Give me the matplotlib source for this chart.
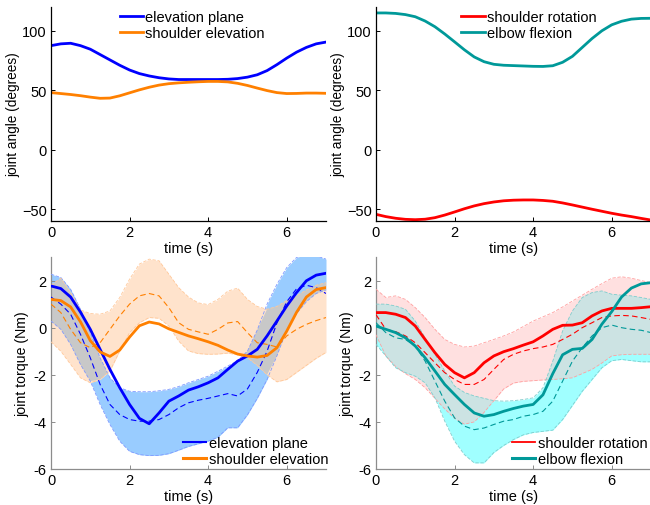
import numpy as np
import matplotlib
matplotlib.use("Agg")
import matplotlib.pyplot as plt
from matplotlib.lines import Line2D

plt.rcParams['font.family'] = ['Liberation Sans', 'DejaVu Sans']
plt.rcParams['font.size'] = 10

# ---------------- data ----------------
t = np.arange(0, 7.001, 0.25)

# joint angles (degrees)
elev_plane_angle = [87.5, 89, 89.5, 87.5, 84.5, 80, 75.5, 71, 67, 64, 62, 60.5, 59.5, 59, 59,
                    59, 59, 59, 59.2, 59.8, 61, 63, 66.5, 71.5, 77, 82, 86, 89, 90.5]
shoulder_elev_angle = [48, 47.2, 46.4, 45.4, 44.2, 43.2, 43.4, 45.3, 47.8, 50.3, 52.5, 54.3, 55.5,
                       56.2, 56.7, 57.1, 57.4, 57.4, 57, 55.8, 54, 51.8, 49.7, 48, 47.2, 47.3,
                       47.6, 47.6, 47.4]
shoulder_rot_angle = [-54.4, -56.3, -57.7, -58.6, -58.9, -58.5, -57.2, -55, -52.4, -49.7, -47.3,
                      -45.4, -44, -43, -42.5, -42.3, -42.3, -42.7, -43.4, -44.8, -46.5, -48.3,
                      -50.1, -51.8, -53.5, -55, -56.3, -57.8, -59.2]
elbow_flex_angle = [115, 115, 114.6, 113.6, 111.8, 108.2, 103.4, 97.3, 90.7, 84, 78, 74, 71.8,
                    71, 70.7, 70.4, 70.1, 70, 70.6, 73.5, 78.5, 86, 93.5, 100, 105, 108, 109.8,
                    110.4, 110.5]

# joint torques (Nm): mean (solid), second estimate (dashed), band upper / lower
ep_mean = [1.77, 1.66, 1.3, 0.66, -0.07, -0.92, -1.77, -2.55, -3.26, -3.85, -4.08, -3.62, -3.12,
           -2.9, -2.65, -2.51, -2.34, -2.13, -1.77, -1.42, -1.2, -0.92, -0.35, 0.28, 0.92, 1.49,
           1.99, 2.23, 2.31]
ep_dash = [1.3, 1.0, 0.57, -0.28, -1.28, -2.41, -3.26, -3.69, -3.9, -3.97, -3.97, -3.9, -3.69,
           -3.4, -3.19, -3.08, -3.0, -2.9, -2.8, -2.9, -2.6, -1.9, -1.0, 0.2, 1.1, 1.65, 1.8,
           1.7, 1.45]
ep_up = [2.27, 2.13, 1.63, 0.78, -0.21, -1.28, -2.13, -2.55, -2.7, -2.72, -2.72, -2.68, -2.62,
         -2.5, -2.34, -2.2, -2.06, -1.85, -1.63, -1.4, -1.0, -0.1, 1.0, 1.84, 2.55, 2.98, 3.12,
         3.05, 2.91]
ep_lo = [0.28, -0.07, -0.71, -1.56, -2.27, -3.26, -4.11, -4.82, -5.25, -5.39, -5.43, -5.42,
         -5.35, -5.2, -5.04, -4.93, -4.82, -4.65, -4.25, -4.25, -3.7, -3.0, -2.2, -1.2, -0.1,
         0.6, 1.1, 1.45, 1.6]

se_mean = [1.2, 1.15, 0.88, 0.25, -0.55, -1.03, -1.22, -0.95, -0.4, 0.08, 0.24, 0.16, -0.05,
           -0.2, -0.35, -0.47, -0.6, -0.75, -0.95, -1.12, -1.2, -1.25, -1.18, -0.85, -0.15, 0.65,
           1.3, 1.62, 1.7]
se_dash = [1.0, 0.64, -0.07, -0.64, -0.85, -0.64, -0.07, 0.5, 1.0, 1.35, 1.45, 1.35, 0.85, 0.21,
           -0.07, -0.18, -0.28, -0.07, 0.2, 0.26, -0.21, -0.64, -0.71, -0.82, -0.35, -0.07, 0.14,
           0.3, 0.43]
se_up = [1.8, 2.1, 1.5, 0.75, 0.6, 0.57, 0.71, 1.28, 2.06, 2.7, 2.91, 2.84, 2.27, 1.7, 1.3,
         1.05, 0.98, 1.2, 1.55, 1.68, 1.2, 0.9, 0.78, 0.9, 1.15, 1.35, 1.6, 1.8, 1.91]
se_lo = [-0.6, -1.0, -1.56, -2.13, -2.34, -2.2, -1.84, -0.99, -0.21, 0.21, 0.43, 0.4, 0.07,
         -0.57, -0.99, -1.1, -1.13, -1.12, -1.08, -1.15, -1.28, -1.6, -2.0, -2.3, -2.2, -1.9,
         -1.6, -1.3, -1.05]

sr_mean = [0.64, 0.64, 0.57, 0.43, 0.07, -0.5, -1.06, -1.56, -1.91, -2.13, -1.91, -1.49, -1.2,
           -1.02, -0.89, -0.74, -0.6, -0.35, -0.07, 0.1, 0.11, 0.21, 0.5, 0.71, 0.82, 0.82, 0.82,
           0.85, 0.89]
sr_dash = [0.55, -0.07, -0.17, -0.35, -0.64, -1.06, -1.49, -1.91, -2.2, -2.41, -2.41, -2.2,
           -1.77, -1.35, -1.13, -0.99, -0.89, -0.82, -0.71, -0.5, -0.28, 0.0, 0.21, 0.43, 0.5,
           0.52, 0.5, 0.43, 0.35]
sr_up = [1.63, 1.28, 1.35, 1.2, 0.85, 0.43, -0.07, -0.5, -0.71, -0.82, -0.78, -0.64, -0.5,
         -0.35, -0.18, 0.05, 0.28, 0.46, 0.64, 0.88, 1.13, 1.38, 1.63, 1.87, 2.1, 2.16, 2.1,
         2.0, 1.91]
sr_lo = [-0.3, -1.2, -1.65, -1.95, -2.2, -2.55, -3.0, -3.45, -3.85, -4.1, -4.0, -3.6, -3.1,
         -2.6, -2.35, -2.28, -2.25, -2.22, -2.2, -2.17, -2.13, -1.95, -1.77, -1.5, -1.2, -1.15,
         -1.13, -1.13, -1.13]

ef_mean = [0.07, -0.07, -0.21, -0.43, -0.78, -1.28, -1.84, -2.41, -2.84, -3.26, -3.62, -3.76,
           -3.69, -3.55, -3.43, -3.33, -3.26, -2.85, -1.95, -1.15, -0.92, -0.88, -0.5, 0.15,
           0.68, 1.3, 1.68, 1.86, 1.91]
ef_dash = [0.21, -0.21, -0.43, -0.5, -0.78, -1.42, -2.27, -3.12, -3.83, -4.18, -4.33, -4.26,
           -4.11, -3.97, -3.9, -3.76, -3.69, -3.55, -3.12, -2.27, -1.42, -0.85, -0.35, 0.0,
           0.11, 0.0, -0.07, -0.11, -0.21]
ef_up = [1.0, 1.0, 0.92, 0.78, 0.28, -0.43, -1.13, -1.84, -2.48, -2.75, -2.9, -3.0, -3.1,
         -3.12, -3.1, -3.05, -2.98, -2.55, -1.42, -0.14, 0.71, 1.28, 1.49, 1.56, 1.42, 1.38,
         1.35, 1.28, 1.2]
ef_lo = [-0.71, -1.2, -1.7, -1.91, -2.06, -2.34, -2.98, -3.97, -4.82, -5.39, -5.74, -5.74,
         -5.3, -5.0, -4.75, -4.55, -4.45, -4.4, -4.35, -3.9, -3.3, -2.7, -2.2, -1.7, -1.4,
         -1.35, -1.4, -1.45, -1.45]

labels_left = ["elevation plane", "shoulder elevation"]
labels_right = ["shoulder rotation", "elbow flexion"]

BLUE = (0, 0, 1)
ORANGE = (1, 0.5, 0)
RED = (1, 0, 0)
TEAL = (0, 0.6, 0.6)

# ---------------- figure ----------------
fig = plt.figure(figsize=(6.5, 5.06), dpi=100)
W, H = 650, 506


def add_ax(x0, y0, x1, y1):
    return fig.add_axes([x0 / W, 1 - y1 / H, (x1 - x0) / W, (y1 - y0) / H])


ax1 = add_ax(51, 8, 326, 222)
ax2 = add_ax(376, 8, 651, 222)
ax3 = add_ax(51, 258, 326, 470)
ax4 = add_ax(376, 258, 651, 470)


def style(ax, spine_color):
    for s in ['top', 'right']:
        ax.spines[s].set_visible(False)
    for s in ['left', 'bottom']:
        ax.spines[s].set_color(spine_color)
        ax.spines[s].set_linewidth(0.9)
    ax.tick_params(direction='in', length=3, width=0.7, color=spine_color,
                   labelsize=10.5, pad=3)
    ax.set_xlim(0, 7)
    ax.set_xticks([0, 2, 4, 6])
    ax.set_xlabel("time (s)", fontsize=10.5, labelpad=1)


# top panels
for ax in (ax1, ax2):
    style(ax, 'black')
    ax.set_ylim(-60, 120)
    ax.set_yticks([-50, 0, 50, 100])
    ax.set_ylabel("joint angle (degrees)", fontsize=9.8, labelpad=1)

ax1.plot(t, elev_plane_angle, color=BLUE, lw=2.0, label=labels_left[0])
ax1.plot(t, shoulder_elev_angle, color=ORANGE, lw=2.0, label=labels_left[1])
ax2.plot(t, shoulder_rot_angle, color=RED, lw=2.0, label=labels_right[0])
ax2.plot(t, elbow_flex_angle, color=TEAL, lw=2.0, label=labels_right[1])

leg_kw = dict(frameon=False, fontsize=10.5, handlelength=1.6, handletextpad=0.15,
              labelspacing=0.15, borderaxespad=0, borderpad=0)
ax1.legend(loc='upper left', bbox_to_anchor=(0.25, 0.985), **leg_kw)
ax2.legend(loc='upper left', bbox_to_anchor=(0.31, 0.985), **leg_kw)


# bottom panels
def bands(ax, up1, lo1, up2, lo2, f1, f2, fo, e1, e2):
    up1, lo1, up2, lo2 = map(np.asarray, (up1, lo1, up2, lo2))
    ax.fill_between(t, lo1, up1, color=f1, lw=0, zorder=1)
    ax.fill_between(t, lo2, up2, color=f2, lw=0, zorder=1)
    top = np.minimum(up1, up2)
    bot = np.maximum(lo1, lo2)
    ax.fill_between(t, bot, top, where=top > bot, interpolate=True, color=fo, lw=0, zorder=2)
    for arr, c in ((up1, e1), (lo1, e1), (up2, e2), (lo2, e2)):
        ax.plot(t, arr, color=c, lw=0.6, ls=(0, (4, 2)), zorder=3)


for ax in (ax3, ax4):
    style(ax, '#8c8c8c')
    ax.set_ylim(-6, 3)
    ax.set_yticks([-6, -4, -2, 0, 2])
    ax.set_yticklabels(['-6', '-4', '-2', '0', '2'])
    ax.set_ylabel("joint torque (Nm)", fontsize=10.2, labelpad=3)

bands(ax3, ep_up, ep_lo, se_up, se_lo, '#99CCFF', '#FFE3CC', '#C8C8C8', '#7F99FF', '#FFC899')
ax3.plot(t, ep_dash, color=BLUE, lw=0.8, ls=(0, (5, 3)), zorder=4)
ax3.plot(t, se_dash, color=ORANGE, lw=0.8, ls=(0, (5, 3)), zorder=4)
ax3.plot(t, ep_mean, color=BLUE, lw=2.0, zorder=5)
ax3.plot(t, se_mean, color=ORANGE, lw=2.0, zorder=5)

bands(ax4, sr_up, sr_lo, ef_up, ef_lo, '#FFE0E0', '#A0FFFF', '#CCE3E3', '#FF9F9F', '#80CCCC')
ax4.plot(t, sr_dash, color=RED, lw=0.8, ls=(0, (5, 3)), zorder=4)
ax4.plot(t, ef_dash, color=TEAL, lw=0.8, ls=(0, (5, 3)), zorder=4)
ax4.plot(t, sr_mean, color=RED, lw=2.0, zorder=5)
ax4.plot(t, ef_mean, color=TEAL, lw=2.0, zorder=5)

h3 = [Line2D([], [], color=BLUE, lw=1.5), Line2D([], [], color=ORANGE, lw=2.2)]
ax3.legend(h3, labels_left, loc='lower left', bbox_to_anchor=(0.48, 0.015), **leg_kw)
h4 = [Line2D([], [], color=RED, lw=1.3), Line2D([], [], color=TEAL, lw=2.2)]
ax4.legend(h4, labels_right, loc='lower left', bbox_to_anchor=(0.495, 0.015), **leg_kw)

fig.savefig("out.png", dpi=100)
